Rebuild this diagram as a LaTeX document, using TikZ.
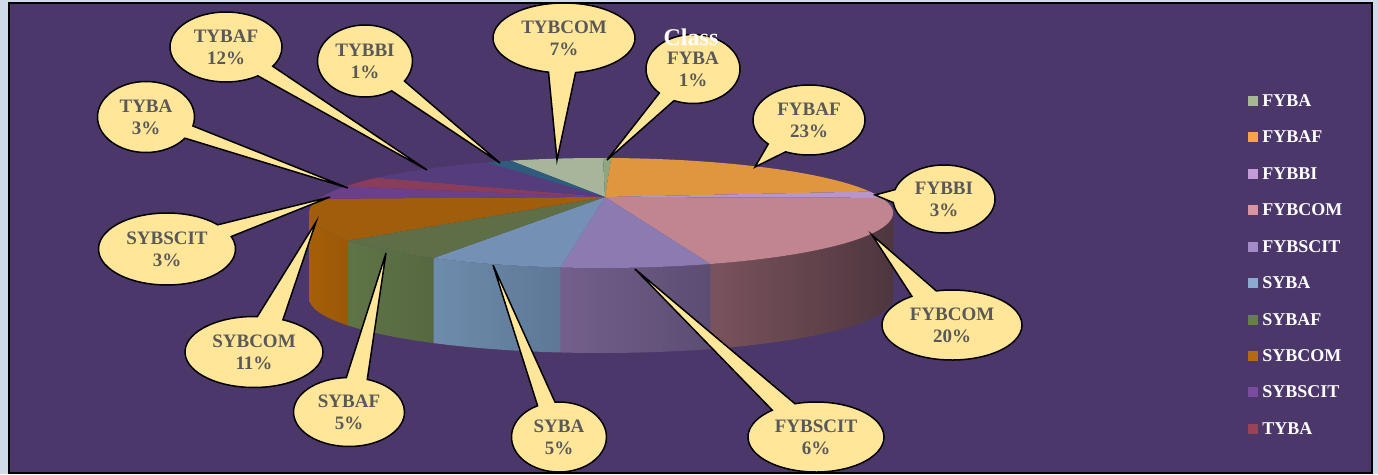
\documentclass[tikz,border=0pt]{standalone}
\usepackage{fontspec}
\setmainfont{Liberation Serif}
\usetikzlibrary{positioning}
\usetikzlibrary{shapes.callouts}

\definecolor{outerbg}{HTML}{CFDBE8}
\definecolor{plotbg}{HTML}{4B376A}
\definecolor{bubblefill}{HTML}{FFE699}
\definecolor{labelgray}{HTML}{595959}
% legend colours
\definecolor{fybaC}{HTML}{A5B893}
\definecolor{fybafC}{HTML}{F4A646}
\definecolor{fybbiC}{HTML}{C39DD8}
\definecolor{fybcomC}{HTML}{D9959F}
\definecolor{fybscitC}{HTML}{A28BC6}
\definecolor{sybaC}{HTML}{8AAAD0}
\definecolor{sybafC}{HTML}{667D4D}
\definecolor{sybcomC}{HTML}{B46A12}
\definecolor{sybscitC}{HTML}{7B4BA0}
\definecolor{tybaC}{HTML}{9A4358}
% top faces of the pie
\definecolor{fybaT}{HTML}{8FA67E}
\definecolor{fybafT}{HTML}{E0953F}
\definecolor{fybbiT}{HTML}{B896C9}
\definecolor{fybcomT}{HTML}{C0858F}
\definecolor{fybscitT}{HTML}{8C7BB0}
\definecolor{sybaT}{HTML}{7590B5}
\definecolor{sybafT}{HTML}{5E6F48}
\definecolor{sybcomT}{HTML}{A05D0B}
\definecolor{sybscitT}{HTML}{6C3F8C}
\definecolor{tybaT}{HTML}{8A3D5A}
\definecolor{tybafT}{HTML}{553D7D}
\definecolor{tybbiT}{HTML}{2F5B7C}
\definecolor{tybcomT}{HTML}{A7B59A}
% side walls, light and dark end
\definecolor{fybcomSL}{HTML}{7A535D}
\definecolor{fybcomSR}{HTML}{4E363E}
\definecolor{fybscitSL}{HTML}{735F8B}
\definecolor{fybscitSR}{HTML}{5C4D73}
\definecolor{sybaSL}{HTML}{6E8CAC}
\definecolor{sybaSR}{HTML}{5E7796}
\definecolor{sybafSL}{HTML}{5F7446}
\definecolor{sybafSR}{HTML}{566841}
\definecolor{sybcomSL}{HTML}{A65F08}
\definecolor{sybcomSR}{HTML}{9A5808}

\begin{document}
\begin{tikzpicture}[x=1pt,y=-1pt,
    rim/.style={x radius=292,y radius=55},
    bubble/.style={ellipse callout,draw=black,line width=1.5pt,fill=bubblefill,
      text=labelgray,font=\fontsize{19}{22}\selectfont\bfseries,align=center,
      inner sep=0pt,callout pointer arc=22},
    legendbox/.style={fill=#1,minimum size=10pt,inner sep=0pt},
    legendtext/.style={text=white,font=\fontsize{18}{22}\selectfont\bfseries,inner sep=0pt}]
    \useasboundingbox (0,0) rectangle (1378,474);
    \fill[outerbg] (0,0) rectangle (1378,474);
    \filldraw[fill=plotbg,draw=black,line width=1.5pt] (9,3) rectangle (1372,473);

    % pie, centred on the top rim
    \begin{scope}[shift={(601,213)}]
        \coordinate (apex) at (4,-16);
        % side walls
        \shade[left color=fybcomSL,right color=fybcomSR] (68:292 and 55) arc[start angle=68,end angle=0,rim] -- ++(0,85) arc[start angle=0,end angle=68,rim] -- cycle;
        \shade[left color=fybscitSL,right color=fybscitSR] (98:292 and 55) arc[start angle=98,end angle=68,rim] -- ++(0,85) arc[start angle=68,end angle=98,rim] -- cycle;
        \shade[left color=sybaSL,right color=sybaSR] (125:292 and 55) arc[start angle=125,end angle=98,rim] -- ++(0,85) arc[start angle=98,end angle=125,rim] -- cycle;
        \shade[left color=sybafSL,right color=sybafSR] (150:292 and 55) arc[start angle=150,end angle=125,rim] -- ++(0,85) arc[start angle=125,end angle=150,rim] -- cycle;
        \shade[left color=sybcomSL,right color=sybcomSR] (180:292 and 55) arc[start angle=180,end angle=150,rim] -- ++(0,85) arc[start angle=150,end angle=180,rim] -- cycle;
        % top faces
        \fill[tybcomT] (apex) -- (252:292 and 55) arc[start angle=252,end angle=270.4,rim] -- cycle;
        \fill[fybaT] (apex) -- (270.4:292 and 55) arc[start angle=270.4,end angle=272,rim] -- cycle;
        \fill[fybafT] (apex) -- (272:292 and 55) arc[start angle=272,end angle=337,rim] -- cycle;
        \fill[fybbiT] (apex) -- (337:292 and 55) arc[start angle=337,end angle=344,rim] -- cycle;
        \fill[fybcomT] (apex) -- (344:292 and 55) arc[start angle=344,end angle=428,rim] -- cycle;
        \fill[fybscitT] (apex) -- (428:292 and 55) arc[start angle=428,end angle=458,rim] -- cycle;
        \fill[sybaT] (apex) -- (458:292 and 55) arc[start angle=458,end angle=485,rim] -- cycle;
        \fill[sybafT] (apex) -- (485:292 and 55) arc[start angle=485,end angle=510,rim] -- cycle;
        \fill[sybcomT] (apex) -- (510:292 and 55) arc[start angle=510,end angle=555,rim] -- cycle;
        \fill[sybscitT] (apex) -- (555:292 and 55) arc[start angle=555,end angle=569,rim] -- cycle;
        \fill[tybaT] (apex) -- (569:292 and 55) arc[start angle=569,end angle=580,rim] -- cycle;
        \fill[tybafT] (apex) -- (580:292 and 55) arc[start angle=580,end angle=607,rim] -- cycle;
        \fill[tybbiT] (apex) -- (607:292 and 55) arc[start angle=607,end angle=612,rim] -- cycle;
    \end{scope}

    % where the callouts point
    \coordinate (tybafP) at (427,170);
    \coordinate (tybbiP) at (500,163);
    \coordinate (tybcomP) at (557,160);
    \coordinate (fybaP) at (607,160);
    \coordinate (fybafP) at (755,167);
    \coordinate (fybbiP) at (875,195);
    \coordinate (fybcomP) at (872,235);
    \coordinate (fybscitP) at (635,269);
    \coordinate (sybaP) at (493,265);
    \coordinate (sybafP) at (386,253);
    \coordinate (sybcomP) at (316,222);
    \coordinate (sybscitP) at (330,197);
    \coordinate (tybaP) at (348,188);

    % callouts
    \node[bubble,minimum width=112pt,minimum height=70pt,callout absolute pointer=(tybafP)] (tybaf) at (226,47) {TYBAF\\12\%};
    \node[bubble,minimum width=95pt,minimum height=72pt,callout absolute pointer=(tybbiP)] (tybbi) at (365,61) {TYBBI\\1\%};
    \node[bubble,minimum width=142pt,minimum height=70pt,callout absolute pointer=(tybcomP)] (tybcom) at (564,38) {TYBCOM\\7\%};
    \node[bubble,minimum width=94pt,minimum height=69pt,callout absolute pointer=(fybaP)] (fyba) at (693,69) {FYBA\\1\%};
    \node[bubble,minimum width=112pt,minimum height=70pt,callout absolute pointer=(fybafP)] (fybaf) at (809,120) {FYBAF\\23\%};
    \node[bubble,minimum width=102pt,minimum height=68pt,callout absolute pointer=(fybbiP)] (fybbi) at (944,199) {FYBBI\\3\%};
    \node[bubble,minimum width=140pt,minimum height=70pt,callout absolute pointer=(fybcomP)] (fybcom) at (952,325) {FYBCOM\\20\%};
    \node[bubble,minimum width=136pt,minimum height=70pt,callout absolute pointer=(fybscitP)] (fybscit) at (816,437) {FYBSCIT\\6\%};
    \node[bubble,minimum width=95pt,minimum height=70pt,callout absolute pointer=(sybaP)] (syba) at (559,437) {SYBA\\5\%};
    \node[bubble,minimum width=111pt,minimum height=69pt,callout absolute pointer=(sybafP)] (sybaf) at (349,412) {SYBAF\\5\%};
    \node[bubble,minimum width=138pt,minimum height=71pt,callout absolute pointer=(sybcomP)] (sybcom) at (254,352) {SYBCOM\\11\%};
    \node[bubble,minimum width=137pt,minimum height=72pt,callout absolute pointer=(sybscitP)] (sybscit) at (167,249) {SYBSCIT\\3\%};
    \node[bubble,minimum width=97pt,minimum height=71pt,callout absolute pointer=(tybaP)] (tyba) at (146,117) {TYBA\\3\%};

    % legend
    \node[legendbox=fybaC] (lb1) at (1253,101) {};
    \node[legendbox=fybafC] (lb2) at (1253,137) {};
    \node[legendbox=fybbiC] (lb3) at (1253,174) {};
    \node[legendbox=fybcomC] (lb4) at (1253,210) {};
    \node[legendbox=fybscitC] (lb5) at (1253,247) {};
    \node[legendbox=sybaC] (lb6) at (1253,283) {};
    \node[legendbox=sybafC] (lb7) at (1253,320) {};
    \node[legendbox=sybcomC] (lb8) at (1253,356) {};
    \node[legendbox=sybscitC] (lb9) at (1253,392) {};
    \node[legendbox=tybaC] (lb10) at (1253,429) {};
    \node[legendtext,right=4pt of lb1] (lt1) {FYBA};
    \node[legendtext,right=4pt of lb2] (lt2) {FYBAF};
    \node[legendtext,right=4pt of lb3] (lt3) {FYBBI};
    \node[legendtext,right=4pt of lb4] (lt4) {FYBCOM};
    \node[legendtext,right=4pt of lb5] (lt5) {FYBSCIT};
    \node[legendtext,right=4pt of lb6] (lt6) {SYBA};
    \node[legendtext,right=4pt of lb7] (lt7) {SYBAF};
    \node[legendtext,right=4pt of lb8] (lt8) {SYBCOM};
    \node[legendtext,right=4pt of lb9] (lt9) {SYBSCIT};
    \node[legendtext,right=4pt of lb10] (lt10) {TYBA};

    \node[text=white,font=\fontsize{24}{28}\selectfont\bfseries] (title) at (691,37) {Class};
\end{tikzpicture}
\end{document}
